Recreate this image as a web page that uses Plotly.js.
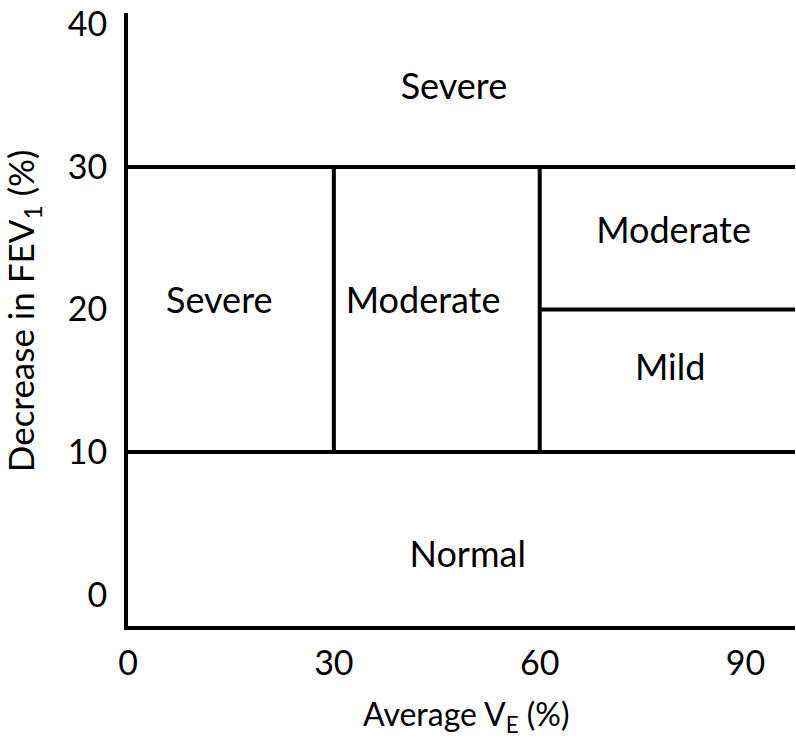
<!DOCTYPE html>
<html>
<head>
<meta charset="utf-8">
<script src="https://cdn.plot.ly/plotly-3.0.1.min.js"></script>
<style>html,body{margin:0;padding:0;background:#fff;}#chart{width:796px;height:748px;}</style>
</head>
<body>
<div id="chart"></div>
<script>
// ---- data ----
const xTickVals = [0, 30, 60, 90];
const yTickVals = [0, 10, 20, 30, 40];
// horizontal boundaries (y level, starting x) running to the right edge
const hLineY = [30, 10, 20];
const hLineX0 = [0, 0, 60];
// vertical boundaries (x position, y from, y to)
const vLineX = [30, 60];
const vLineY0 = [10, 10];
const vLineY1 = [30, 30];
// region labels
const regionNames = ["Severe", "Severe", "Moderate", "Moderate", "Mild", "Normal"];
const regionX = [47.5, 13.3, 43, 79.5, 79, 49.5];
const regionY = [35.4, 20.4, 20.4, 25.3, 15.7, 2.6];

const xMax = 97.2;
const yMin = -2.2, yMax = 40.8;

const FONT = "Lato, 'Open Sans', sans-serif";
const traces = [];
for (let i = 0; i < hLineY.length; i++) {
  traces.push({x: [hLineX0[i], xMax], y: [hLineY[i], hLineY[i]], mode: 'lines',
    line: {color: '#000', width: 4}, hoverinfo: 'skip', showlegend: false, cliponaxis: false});
}
for (let i = 0; i < vLineX.length; i++) {
  traces.push({x: [vLineX[i], vLineX[i]], y: [vLineY0[i], vLineY1[i]], mode: 'lines',
    line: {color: '#000', width: 4}, hoverinfo: 'skip', showlegend: false, cliponaxis: false});
}
traces.push({x: regionX, y: regionY, text: regionNames, mode: 'text',
  textfont: {family: FONT, size: 36, color: '#000'}, textposition: 'middle center',
  hoverinfo: 'skip', showlegend: false, cliponaxis: false});

const layout = {
  width: 796, height: 748,
  margin: {l: 128, r: 1, t: 13, b: 122},
  paper_bgcolor: '#fff', plot_bgcolor: '#fff',
  showlegend: false,
  font: {family: FONT, color: '#000'},
  xaxis: {range: [0, xMax], showgrid: false, zeroline: false, showline: true,
    linecolor: '#000', linewidth: 4, ticks: '', tickvals: xTickVals,
    tickfont: {family: FONT, size: 34, color: '#000'}, ticklabelstandoff: 4,
    ticklabeloverflow: 'allow', fixedrange: true},
  yaxis: {range: [yMin, yMax], showgrid: false, zeroline: false, showline: true,
    linecolor: '#000', linewidth: 4, ticks: '', tickvals: yTickVals,
    tickfont: {family: FONT, size: 34, color: '#000'}, ticklabelstandoff: 10,
    ticklabeloverflow: 'allow', fixedrange: true},
  annotations: [
    {text: 'Decrease in FEV<sub>1</sub> (%)', xref: 'paper', yref: 'paper',
     x: -0.157, y: 0.514, xanchor: 'center', yanchor: 'middle', textangle: -90,
     showarrow: false, font: {family: FONT, size: 35, color: '#000'}},
    {text: 'Average V<sub>E</sub> (%)', xref: 'paper', yref: 'paper',
     x: 0.507, y: -0.147, xanchor: 'center', yanchor: 'middle',
     showarrow: false, font: {family: FONT, size: 32, color: '#000'}}
  ]
};
Plotly.newPlot('chart', traces, layout, {displayModeBar: false, staticPlot: true});
</script>
</body>
</html>
